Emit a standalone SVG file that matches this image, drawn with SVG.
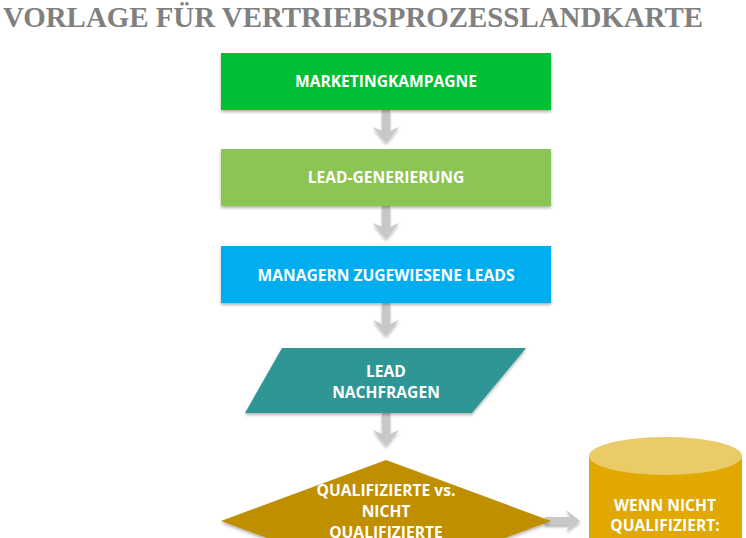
<svg xmlns="http://www.w3.org/2000/svg" width="746" height="538" viewBox="0 0 746 538">
<defs>
<filter id="sh" x="-10%" y="-10%" width="120%" height="130%">
<feDropShadow dx="0" dy="2" stdDeviation="1.5" flood-color="#000" flood-opacity="0.3"/>
</filter>
<style>
.t{font-family:"Open Sans","Noto Sans","DejaVu Sans",sans-serif;font-weight:bold;font-size:15.6px;fill:#fff;text-anchor:middle}
.arr{fill:#c8c8c8}
.title{font-family:"Liberation Serif","Times New Roman",serif;font-weight:bold;font-size:29px;fill:#808080}
</style>
</defs>
<rect width="746" height="538" fill="#fff"/>
<text class="title" x="3" y="27" textLength="700" lengthAdjust="spacingAndGlyphs">VORLAGE FÜR VERTRIEBSPROZESSLANDKARTE</text>
<g id="connectors" filter="url(#sh)">
<path class="arr" d="M382,110 H390 V131 L399,127 L386,143 L373,127 L382,131 Z"/>
<path class="arr" d="M382,206 H390 V227 L399,223 L386,239 L373,223 L382,227 Z"/>
<path class="arr" d="M382,303 H390 V324 L399,320 L386,336 L373,320 L382,324 Z"/>
<path class="arr" d="M382,413 H390 V434 L399,430 L386,446 L373,430 L382,434 Z"/>
<path class="arr" d="M545,517 V525 H570 L566,532 L580,521 L566,510 L570,517 Z"/>
</g>
<g id="n1">
<rect x="221" y="53" width="330" height="57" fill="#00bf35" filter="url(#sh)"/>
<text class="t" x="386" y="87">MARKETINGKAMPAGNE</text>
</g>
<g id="n2">
<rect x="221" y="149" width="330" height="57" fill="#8bc553" filter="url(#sh)"/>
<text class="t" x="386" y="183">LEAD-GENERIERUNG</text>
</g>
<g id="n3">
<rect x="221" y="246" width="330" height="57" fill="#00aeef" filter="url(#sh)"/>
<text class="t" x="386" y="281">MANAGERN ZUGEWIESENE LEADS</text>
</g>
<g id="n4">
<polygon points="282,348 526,348 472,413 245,413" fill="#2e9694" filter="url(#sh)"/>
<text class="t" x="386" y="377">LEAD</text>
<text class="t" x="386" y="398">NACHFRAGEN</text>
</g>
<g id="n5">
<polygon points="386,460 551,521 386,582 221,521" fill="#bf8f00" filter="url(#sh)"/>
<text class="t" x="386" y="496">QUALIFIZIERTE vs.</text>
<text class="t" x="386" y="517">NICHT</text>
<text class="t" x="386" y="538">QUALIFIZIERTE</text>
</g>
<g id="n6">
<path d="M589,456 V600 H742 V456 Z" fill="#e0a800"/>
<ellipse cx="665.5" cy="456" rx="76.5" ry="19" fill="#ebca68"/>
<text class="t" x="665" y="511">WENN NICHT</text>
<text class="t" x="665" y="531">QUALIFIZIERT:</text>
</g>
</svg>
